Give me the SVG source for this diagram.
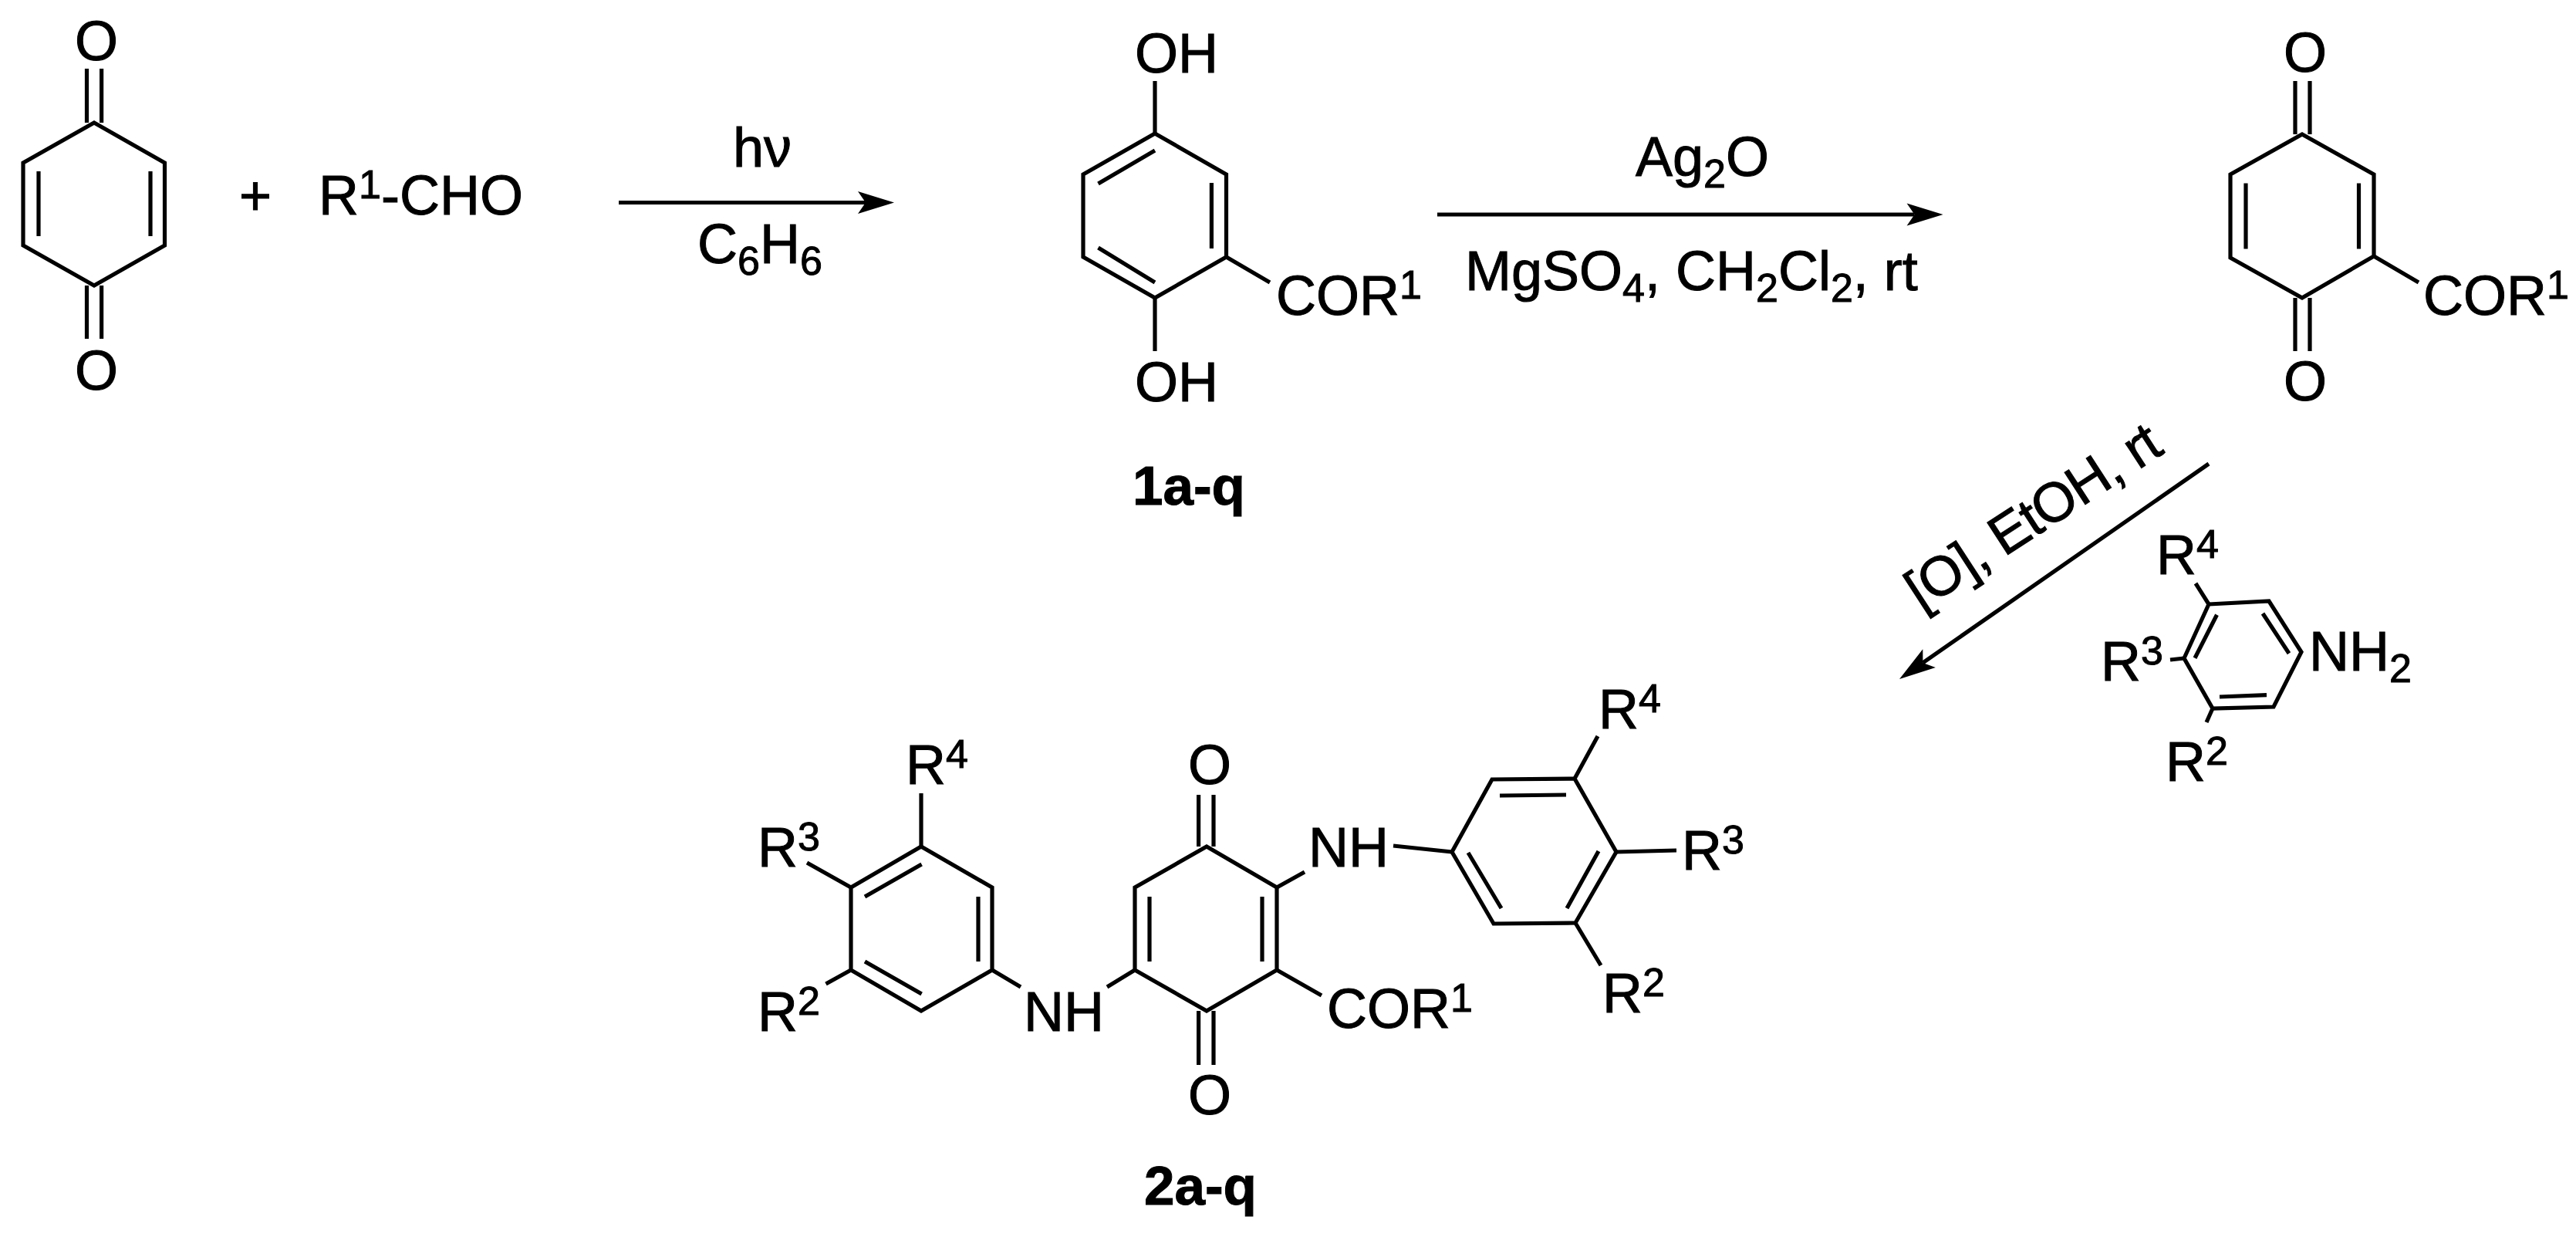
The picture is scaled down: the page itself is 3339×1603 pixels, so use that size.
<svg xmlns="http://www.w3.org/2000/svg" width="3339" height="1603" viewBox="0 0 3339 1603">
<style>
text{font-family:"Liberation Sans",Arial,sans-serif;font-size:72px;fill:#000;stroke:#000;stroke-width:1}
.b{font-weight:bold;font-size:71px}
.s{font-size:52px}
path{fill:none;stroke:#000;stroke-width:5.2;stroke-linejoin:miter;stroke-miterlimit:10}
.conn line{stroke:#000;stroke-width:5.2;marker-end:url(#head)}
#head path{fill:#000;stroke:none}
</style>
<defs>
<marker id="head" markerUnits="userSpaceOnUse" viewBox="-48 -16 49 32" markerWidth="49" markerHeight="32" refX="-37" refY="0" orient="auto" overflow="visible"><path d="M0,0L-47,-14.5L-37,0L-47,14.5Z"/></marker>
</defs>
<rect width="3339" height="1603" fill="#fff"/>
<g id="connectors" class="conn">
<line x1="802" y1="262.5" x2="1122" y2="262.5"/>
<line x1="1863" y1="278" x2="2481.6" y2="278"/>
<line x1="2863" y1="601" x2="2492.4" y2="858.9"/>
</g>
<g id="benzoquinone">
<path d="M122,159L213.5,211V318L122,370L30,318V211Z"/>
<path d="M50,222V306M195,222V306M112.5,89V159M131.6,89V159M112.5,370V439M131.6,370V439"/>
<text x="97" y="78">O</text>
<text x="97" y="505">O</text>
</g>
<g id="plus"><text x="310" y="278">+</text></g>
<g id="aldehyde"><text x="413" y="278">R<tspan class="s" dy="-21">1</tspan><tspan dy="21">-CHO</tspan></text></g>
<g id="label-hv"><text x="950" y="216">hν</text></g>
<g id="label-c6h6"><text x="904" y="341">C<tspan class="s" dy="15">6</tspan><tspan dy="-15">H</tspan><tspan class="s" dy="15">6</tspan></text></g>
<g id="compound-1">
<path d="M1497,173L1589.5,226V333L1497,386L1404,333V226Z"/>
<path d="M1423.5,238L1497,195M1570.4,237V322M1423.5,321L1497,366M1497,105V173M1497,386V455M1589.5,333L1646,366"/>
<text x="1471" y="94">OH</text>
<text x="1471" y="520">OH</text>
<text x="1654" y="408">COR<tspan class="s" dy="-21">1</tspan></text>
<text class="b" x="1468" y="654">1a-q</text>
</g>
<g id="label-ag2o"><text x="2120" y="228">Ag<tspan class="s" dy="15">2</tspan><tspan dy="-15">O</tspan></text></g>
<g id="label-mgso4"><text x="1899" y="376">MgSO<tspan class="s" dy="15">4</tspan><tspan dy="-15">, CH</tspan><tspan class="s" dy="15">2</tspan><tspan dy="-15">Cl</tspan><tspan class="s" dy="15">2</tspan><tspan dy="-15">, rt</tspan></text></g>
<g id="acyl-quinone">
<path d="M2984,174L3077,226V332L2984,386L2891,334V226Z"/>
<path d="M2911,237.5V322.5M3057.5,237.5V322.5M2975,105V174M2994,105V174M2975,386V455M2994,386V455M3077,332L3135,366"/>
<text x="2960" y="93">O</text>
<text x="2960" y="519">O</text>
<text x="3141" y="408">COR<tspan class="s" dy="-21">1</tspan></text>
</g>
<g id="label-oxidation"><text transform="translate(2490 792) rotate(-33)" letter-spacing="-1.5">[O], EtOH, rt</text></g>
<g id="aniline">
<path d="M2863,783L2941,779L2983,845L2947,916L2868,918L2831,853Z"/>
<path d="M2873.5,796.7L2845,852.7M2933,795L2967,846.7M2938,900.7L2877,903M2846,756L2863,783M2813,855L2831,853M2868,918L2860,936"/>
<text x="2795" y="744">R<tspan class="s" dy="-21">4</tspan></text>
<text x="2723" y="882">R<tspan class="s" dy="-21">3</tspan></text>
<text x="2807" y="1012">R<tspan class="s" dy="-21">2</tspan></text>
<text x="2993" y="869">NH<tspan class="s" dy="15">2</tspan></text>
</g>
<g id="compound-2">
<path d="M1194,1097L1286,1150V1257L1194,1310L1103,1257V1150Z"/>
<path d="M1121,1162L1194.6,1120M1268,1162V1246M1121,1246L1194.6,1288M1194,1028V1097M1046,1118L1103,1150M1070.5,1275L1103,1257M1286,1257L1323,1279"/>
<path d="M1564,1097L1655,1150V1257L1564,1310L1471,1257V1150Z"/>
<path d="M1435,1279L1471,1257M1490,1162V1246M1636,1162V1246M1553.6,1030V1097M1573,1030V1097M1553.6,1310V1380M1573,1310V1380M1655,1150L1691,1130M1655,1257L1713,1290"/>
<path d="M1934,1010L2041,1009L2095,1104L2042,1196L1936,1197L1882,1104Z"/>
<path d="M1806,1096L1882,1104M1944,1031L2030,1030M1903,1105L1946,1177M2072,1103L2031,1177M2041,1009L2071,954M2095,1104L2173,1102M2042,1196L2075,1251"/>
<text x="1174" y="1016">R<tspan class="s" dy="-21">4</tspan></text>
<text x="982" y="1123">R<tspan class="s" dy="-21">3</tspan></text>
<text x="982" y="1336">R<tspan class="s" dy="-21">2</tspan></text>
<text x="1327" y="1336">NH</text>
<text x="1540" y="1016">O</text>
<text x="1540" y="1444">O</text>
<text x="1696" y="1123">NH</text>
<text x="1720" y="1332">COR<tspan class="s" dy="-21">1</tspan></text>
<text x="2072" y="944">R<tspan class="s" dy="-21">4</tspan></text>
<text x="2180" y="1127">R<tspan class="s" dy="-21">3</tspan></text>
<text x="2077" y="1312">R<tspan class="s" dy="-21">2</tspan></text>
<text class="b" x="1483" y="1561">2a-q</text>
</g>
</svg>
